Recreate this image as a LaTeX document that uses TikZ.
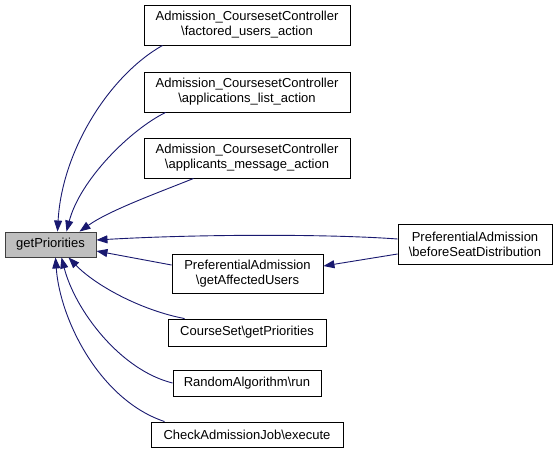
\documentclass[tikz,border=0pt]{standalone}
\usepackage{fontspec}
\setmainfont{Liberation Sans}
\usetikzlibrary{arrows.meta}
\definecolor{navyc}{HTML}{191970}
\definecolor{rootfill}{HTML}{BFBFBF}
\definecolor{rootdraw}{HTML}{404040}
\newcommand{\bs}{\textbackslash}
\begin{document}
\begin{tikzpicture}[x=1pt,y=-1pt,
  box/.style={draw=black, fill=white, line width=0.9pt, inner sep=0pt, align=center,
    font=\fontsize{13}{15}\selectfont},
  root/.style={box, draw=rootdraw, fill=rootfill},
  edge/.style={draw=navyc, line width=0.9pt, -{Triangle[length=11pt,width=8pt]}}]
\useasboundingbox[fill=white] (0,0) rectangle (559,453);
\node[root, minimum width=91pt, minimum height=25pt] (gp) at (50.5,244.5) {getPriorities};
\node[box, minimum width=206pt, minimum height=40pt] (a1) at (247,25) {Admission\_CoursesetController\\\bs factored\_users\_action};
\node[box, minimum width=206pt, minimum height=40pt] (a2) at (247,92) {Admission\_CoursesetController\\\bs applications\_list\_action};
\node[box, minimum width=206pt, minimum height=40pt] (a3) at (247,158) {Admission\_CoursesetController\\\bs applicants\_message\_action};
\node[box, minimum width=151pt, minimum height=39pt] (ga) at (247.5,273.5) {PreferentialAdmission\\\bs getAffectedUsers};
\node[box, minimum width=158pt, minimum height=27pt] (cs) at (247,332.5) {CourseSet\bs getPriorities};
\node[box, minimum width=148pt, minimum height=26pt] (ra) at (247,383) {RandomAlgorithm\bs run};
\node[box, minimum width=192pt, minimum height=25pt] (ca) at (247,434.5) {CheckAdmissionJob\bs execute};
\node[box, minimum width=154pt, minimum height=40pt] (bs) at (475,244) {PreferentialAdmission\\\bs beforeSeatDistribution};

\draw[edge] ([xshift=19pt]a1.south west) .. controls (110,75) and (62,150) .. ([xshift=7pt]gp.north);
\draw[edge] ([xshift=22pt]a2.south west) .. controls (130,130) and (80,180) .. ([xshift=16pt]gp.north);
\draw[edge] ([xshift=50pt]a3.south west) .. controls (160,192) and (110,210) .. ([xshift=29pt]gp.north);
\draw[edge] ([yshift=5pt]bs.west) .. controls (330,234) and (200,234) .. ([yshift=4.5pt]gp.east);
\draw[edge] ([yshift=8.5pt]ga.west) -- ([yshift=-6.5pt]gp.east);
\draw[edge] ([yshift=-10pt]bs.west) -- ([yshift=7.5pt]ga.east);
\draw[edge] ([xshift=17pt]cs.north west) .. controls (140,310) and (95,285) .. ([xshift=18pt]gp.south);
\draw[edge] (ra.west) .. controls (120,370) and (75,310) .. ([xshift=11pt]gp.south);
\draw[edge] ([xshift=14pt]ca.north west) .. controls (100,400) and (60,320) .. ([xshift=5pt]gp.south);
\end{tikzpicture}
\end{document}
